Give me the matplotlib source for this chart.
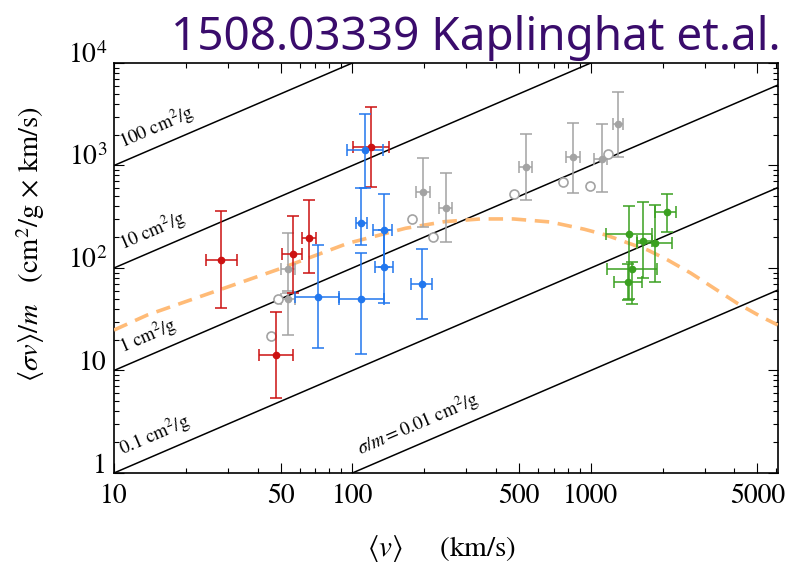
import numpy as np
import matplotlib
matplotlib.use("Agg")
import matplotlib.pyplot as plt
from matplotlib.ticker import FixedLocator, NullFormatter

plt.rcParams["font.family"] = ["STIXGeneral", "DejaVu Serif"]
plt.rcParams["mathtext.fontset"] = "stix"

# dwarfs (red)
red_v = [28.2, 47.8, 56.1, 66.0, 120.0]
red_v_lo = [24.3, 40.6, 50.9, 61.5, 100.5]
red_v_hi = [32.9, 56.5, 61.5, 70.6, 142.0]
red_s = [120, 14.2, 137, 198, 1506]
red_s_lo = [40.4, 5.4, 56.7, 88.9, 612]
red_s_hi = [360, 37, 325, 458, 3720]

# LSB galaxies (blue)
blue_v = [113, 108.7, 108.7, 71.5, 135.5, 135.5, 195]
blue_v_lo = [95.2, 103.3, 87.5, 57.5, 122.6, 124, 175.5]
blue_v_hi = [134, 115, 135.5, 87.5, 146, 148, 216.5]
blue_s = [1416, 277, 49.4, 51.8, 235, 103, 69.4]
blue_s_lo = [607, 166, 14.4, 16.6, 103, 45.8, 31.6]
blue_s_hi = [3170, 607, 139, 166, 527, 235, 153]

# groups (gray)
gray_v = [53.5, 53.5, 198, 246, 533, 843, 1110, 1306]
gray_v_lo = [50.3, 50.3, 185.6, 230, 498, 786, 1030, 1236]
gray_v_hi = [57.5, 57.5, 211, 262, 567, 897, 1170, 1370]
gray_s = [98, 50, 548, 387, 973, 1203, 1156, 2523]
gray_s_lo = [60, 22.2, 253, 178, 460, 535, 548, 1203]
gray_s_hi = [218, 57, 1191, 839, 2027, 2618, 2523, 5250]

open_v = [45.5, 48.7, 177, 218, 476, 764, 993, 1186]
open_s = [21.8, 49.8, 299, 199, 524, 686, 635, 1285]

# clusters (green)
green_v = [1449, 1663, 1862, 2080, 1496, 1439]
green_v_lo = [1156, 1570, 1570, 1852, 1175, 1250]
green_v_hi = [1810, 1808, 2192, 2270, 1900, 1640]
green_s = [213, 183, 174, 349, 97, 73]
green_s_lo = [50, 79, 73.5, 226, 45, 48.6]
green_s_hi = [403, 443, 412, 527, 115, 110]

# model curve (orange dashed)
curve_v = [10, 13.8, 26.3, 50.1, 95.6, 167, 243, 345, 473, 678, 938,
           1156, 1730, 2099, 2630, 4133, 5180, 6085]
curve_s = [24.8, 34.8, 58.7, 99, 174, 244, 283, 301, 301, 281, 239,
           210, 150, 120, 89, 45, 33.5, 27.8]

cross_sections = [100, 10, 1, 0.1, 0.01]
cross_labels = ["100 cm$^2$/g", "10 cm$^2$/g", "1 cm$^2$/g",
                "0.1 cm$^2$/g", r"$\sigma/m = 0.01$ cm$^2$/g"]
label_v = [11.4, 11.4, 11.4, 11.4, 114]

x_major = [10, 50, 100, 500, 1000, 5000]
x_labels = ["10", "50", "100", "500", "1000", "5000"]
y_major = [1, 10, 100, 1000, 10000]
y_labels = ["1", "10", "$10^2$", "$10^3$", "$10^4$"]


def draw_errors(ax, v, v_lo, v_hi, s, s_lo, s_hi, color):
    v = np.array(v)
    s = np.array(s)
    xerr = [v - np.array(v_lo), np.array(v_hi) - v]
    yerr = [s - np.array(s_lo), np.array(s_hi) - s]
    ax.errorbar(v, s, xerr=xerr, yerr=yerr, fmt="o", color=color,
                markersize=4.5, elinewidth=1.1, capsize=4, capthick=1.1, zorder=4)


fig = plt.figure(figsize=(7.95, 5.67), dpi=100)
ax = fig.add_axes([0.1434, 0.1658, 0.8352, 0.7231])
ax.set_xscale("log")
ax.set_yscale("log")
ax.set_xlim(10, 6100)
ax.set_ylim(1, 10000)

v_line = np.array([10, 6100])
for cs in cross_sections:
    ax.plot(v_line, cs * v_line, color="black", lw=1.1, zorder=2)

# label rotation from display slope of a line y ~ v
p0 = ax.transData.transform((10, 1))
p1 = ax.transData.transform((100, 10))
angle = np.degrees(np.arctan2(p1[1] - p0[1], p1[0] - p0[0]))
nx, ny = -np.sin(np.radians(angle)), np.cos(np.radians(angle))
for cs, text, v0 in zip(cross_sections, cross_labels, label_v):
    ax.annotate(text, xy=(v0, cs * v0), xytext=(4.5 * nx, 4.5 * ny),
                textcoords="offset points", rotation=angle,
                rotation_mode="anchor", ha="left", va="bottom",
                fontsize=13.5, zorder=3)

ax.plot(curve_v, curve_s, color="#ffbb77", lw=2.6, dashes=(4, 2.4), zorder=3)

draw_errors(ax, gray_v, gray_v_lo, gray_v_hi, gray_s, gray_s_lo, gray_s_hi, "#a3a3a3")
ax.plot(open_v, open_s, "o", markersize=6.5, markerfacecolor="white",
        markeredgecolor="#a3a3a3", markeredgewidth=1.2, zorder=4)
draw_errors(ax, red_v, red_v_lo, red_v_hi, red_s, red_s_lo, red_s_hi, "#cc1111")
draw_errors(ax, blue_v, blue_v_lo, blue_v_hi, blue_s, blue_s_lo, blue_s_hi, "#2277ee")
draw_errors(ax, green_v, green_v_lo, green_v_hi, green_s, green_s_lo, green_s_hi, "#3aa020")

ax.xaxis.set_major_locator(FixedLocator(x_major))
ax.set_xticklabels(x_labels)
x_minor = [v for d in [10, 100, 1000] for v in np.arange(2, 10) * d if v < 6100 and v not in x_major]
ax.xaxis.set_minor_locator(FixedLocator(x_minor))
ax.xaxis.set_minor_formatter(NullFormatter())
ax.yaxis.set_major_locator(FixedLocator(y_major))
ax.set_yticklabels(y_labels)
y_minor = [v for d in [1, 10, 100, 1000] for v in np.arange(2, 10) * d]
ax.yaxis.set_minor_locator(FixedLocator(y_minor))
ax.yaxis.set_minor_formatter(NullFormatter())

ax.tick_params(which="both", direction="in", top=True, right=True, width=0.8)
ax.tick_params(which="major", length=7, labelsize=20)
ax.tick_params(which="minor", length=3.5)
ax.tick_params(axis="x", pad=8)
ax.tick_params(axis="y", pad=5)
for lab in ax.get_yticklabels():
    lab.set_verticalalignment("baseline")
for sp in ax.spines.values():
    sp.set_linewidth(1.2)

fig.text(0.038, 0.57, r"$\langle\sigma v\rangle/m$   (cm$^2$/g $\times$ km/s)",
         rotation=90, ha="center", va="center", fontsize=20.5)
fig.text(0.556, 0.033, r"$\langle v\rangle$     (km/s)",
         ha="center", va="center", fontsize=21)

fig.text(0.982, 0.912, "1508.03339 Kaplinghat et.al.", ha="right", va="baseline",
         fontsize=33, color="#3a0c6c", family=["Noto Sans", "DejaVu Sans"])

fig.savefig("out.png", dpi=100)
